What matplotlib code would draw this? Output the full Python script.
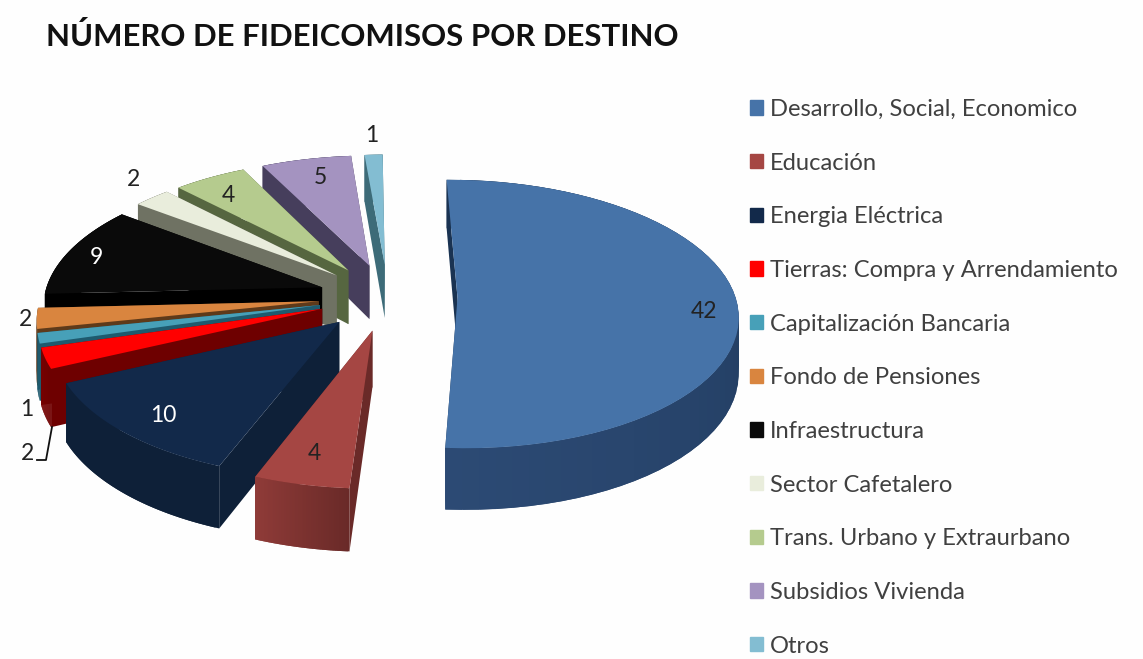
import numpy as np
import matplotlib
matplotlib.use('Agg')
import matplotlib.pyplot as plt
from matplotlib.colors import to_rgb
from matplotlib.patches import Patch

plt.rcParams['font.family'] = ['Lato', 'DejaVu Sans']

categorias = ['Desarrollo, Social, Economico', 'Educación', 'Energia Eléctrica',
              'Tierras: Compra y Arrendamiento', 'Capitalización Bancaria',
              'Fondo de Pensiones', 'Infraestructura', 'Sector Cafetalero',
              'Trans. Urbano y Extraurbano', 'Subsidios Vivienda', 'Otros']
valores = [42, 4, 10, 2, 1, 2, 9, 2, 4, 5, 1]

colores = ['#4673a8', '#a54643', '#12294a', '#ff0000', '#47a0b8', '#d9853f',
           '#0a0a0a', '#e9eddc', '#b5cb8e', '#a493c0', '#83bdd2']
muro_osc = ['#1a3352', '#6a2a28', '#0e2038', '#6e0000', '#1e5a6e', '#5e3a1a',
            '#000000', '#6f7263', '#566640', '#463e5c', '#3d6b78']
muro_cla = ['#2c4a74', '#8f3b38', '#0e2038', '#7a0000', '#1e5a6e', '#6e4520',
            '#000000', '#6f7263', '#566640', '#463e5c', '#3d6b78']

# geometria del pastel en pixeles
cx, cy = 388, 297
R = 278
ky = 134
persp = 0.12
grosor = 55
explode = 0.25


def proy(x, y, z=0):
    s = 1 - persp * y
    return cx + R * x * s, cy - ky * y * s + z * grosor * s


def cuna(ax, a0, a1, c_top, c_osc, c_cla, zo):
    med = np.radians((a0 + a1) / 2)
    ox = explode * np.sin(med)
    oy = explode * np.cos(med)
    th = np.radians(np.linspace(a0, a1, 60))
    x = ox + np.sin(th)
    y = oy + np.cos(th)
    # paredes radiales
    for i in [0, -1]:
        px, py = proy(np.array([ox, x[i], x[i], ox]), np.array([oy, y[i], y[i], oy]),
                      np.array([0, 0, 1, 1]))
        ax.fill(px, py, color=c_osc, lw=0, zorder=zo)
    # pared exterior con degradado, cada tramo pisa al siguiente para que no se vean rayas
    a = np.array(to_rgb(c_osc))
    b = np.array(to_rgb(c_cla))
    for i in range(len(th) - 1):
        t = i / (len(th) - 2)
        j = min(i + 2, len(th) - 1)
        px, py = proy(np.array([x[i], x[j], x[j], x[i]]),
                      np.array([y[i], y[j], y[j], y[i]]),
                      np.array([0, 0, 1, 1]))
        ax.fill(px, py, color=a + (b - a) * t, lw=0, zorder=zo + i * 0.001)
    # tapa
    px, py = proy(np.r_[ox, x], np.r_[oy, y])
    ax.fill(px, py, color=c_top, lw=0, zorder=zo + 0.5)


fig = plt.figure(figsize=(11.43, 6.59), dpi=100)
ax = fig.add_axes([0, 0, 1, 1])
ax.set_xlim(0, 1143)
ax.set_ylim(659, 0)
ax.axis('off')

ini = -0.6
total = sum(valores)
acum = np.cumsum([0] + valores) / total * 360 + ini
# se pinta de atras hacia adelante
orden = [10, 9, 8, 7, 6, 5, 4, 3, 2, 1, 0]
for n, i in enumerate(orden):
    cuna(ax, acum[i], acum[i + 1], colores[i], muro_osc[i], muro_cla[i], 2 + n)

ax.text(46, 36, 'NÚMERO DE FIDEICOMISOS POR DESTINO', fontsize=22.4, weight='bold',
        color='#111111', va='center')

# etiquetas de valores
etiquetas = [(704, 311, '42', '#222222'), (314, 454, '4', '#222222'), (163, 415, '10', 'white'),
             (96, 257, '9', 'white'), (228, 195, '4', '#222222'), (320, 178, '5', '#222222'),
             (372, 135, '1', '#222222'), (133, 179, '2', '#222222'), (26, 320, '2', '#222222'),
             (27, 410, '1', '#222222'), (27, 453, '2', '#222222')]
for ex, ey, txt, col in etiquetas:
    ax.text(ex, ey, txt, fontsize=16.5, color=col, ha='center', va='center', zorder=30)

ax.plot([52, 46, 37], [427, 460, 460], color='#111111', lw=1.3, zorder=30)

parches = [Patch(color=c, label=t) for c, t in zip(colores, categorias)]
ley = ax.legend(handles=parches, loc='upper left', bbox_to_anchor=(750 / 1143, 1 - 99 / 659),
                frameon=False, fontsize=17.1, labelcolor='#404040', handlelength=0.55,
                handleheight=0.55, handletextpad=0.3, labelspacing=1.375,
                borderpad=0, borderaxespad=0)

fig.savefig('out.png', dpi=100, facecolor='#fefefe')
